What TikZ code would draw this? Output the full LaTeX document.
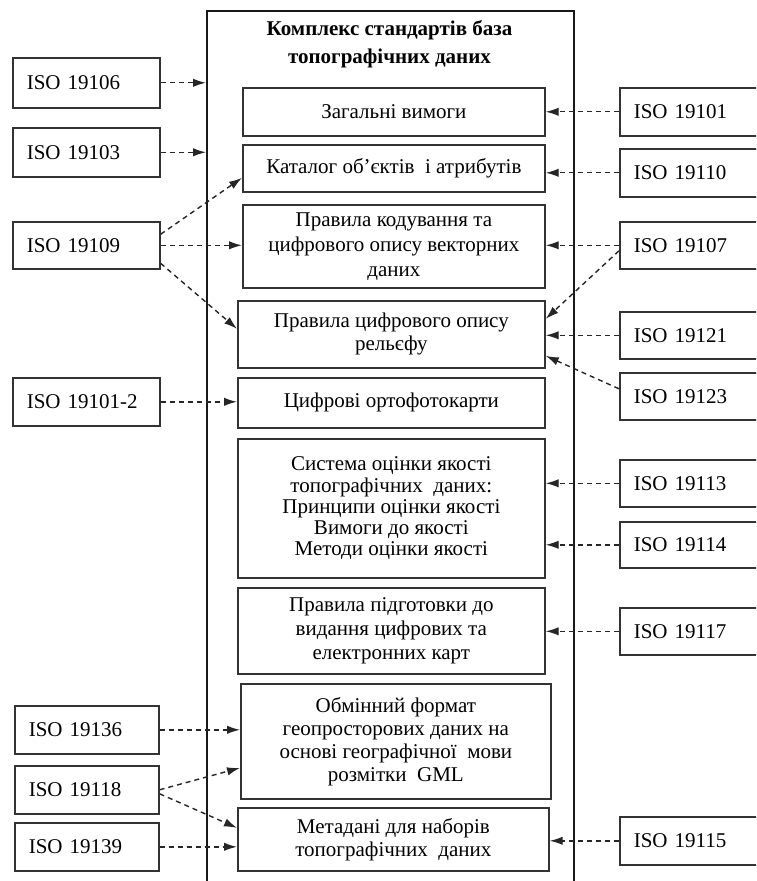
\documentclass[tikz,border=0pt]{standalone}
\usepackage{fontspec}
\setmainfont{Liberation Serif}
\usetikzlibrary{arrows.meta,calc}
\begin{document}
\begin{tikzpicture}[x=0.5pt,y=-0.5pt,
  bx/.style={draw=black!80, line width=0.85pt, anchor=north west, inner sep=0pt,
    align=center, font=\fontsize{10.5}{11.5}\selectfont},
  iso/.style={draw=black!80, line width=0.8pt, anchor=north west, inner xsep=7pt,
    inner ysep=0pt, text width=59.5pt, minimum width=73.5pt, align=left,
    font=\fontsize{10.5}{12}\selectfont},
  con/.style={draw=black!85, dash pattern=on 2.5pt off 2pt, line width=0.7pt,
    -{Latex[length=6.5pt,width=4.2pt]}}
]
\useasboundingbox (0,0) rectangle (756,881);
\clip (0,0) rectangle (756,881);
\fill[white] (0,0) rectangle (756,881);

% outer frame (open at the bottom)
\node[draw=black!90, line width=1.2pt, anchor=north west, inner sep=0pt,
  minimum width=183.5pt, minimum height=450pt] (outer) at (206,10) {};
\node[align=center, font=\fontsize{10.5}{14}\selectfont\bfseries] (title) at (389.5,44)
  {Комплекс стандартів база\\топографічних даних};

% inner boxes
\node[bx, minimum width=151pt, minimum height=24pt] (zag) at (242,87) {Загальні вимоги};
\node[bx, minimum width=151pt, minimum height=23.5pt] (kat) at (242,144) {Каталог об’єктів\ \ і атрибутів};
\node[bx, minimum width=151pt, minimum height=41.5pt, font=\fontsize{10.5}{12.5}\selectfont] (kod) at (242,204)
  {Правила кодування та\\цифрового опису векторних\\даних};
\node[bx, minimum width=153.5pt, minimum height=33.5pt] (rel) at (237,300)
  {Правила цифрового опису\\рельєфу};
\node[bx, minimum width=153.5pt, minimum height=25pt] (ort) at (237,377) {Цифрові ортофотокарти};
\node[bx, minimum width=153.5pt, minimum height=69.5pt, font=\fontsize{10.5}{10.6}\selectfont] (sys) at (237,438)
  {Система оцінки якості\\топографічних\ \ даних:\\Принципи оцінки якості\\Вимоги до якості\\Методи оцінки якості};
\node[bx, minimum width=153.5pt, minimum height=43pt, font=\fontsize{10.5}{12}\selectfont] (pid) at (237,587)
  {Правила підготовки до\\видання цифрових та\\електронних карт};
\node[bx, minimum width=155pt, minimum height=57.5pt] (obm) at (240,683)
  {Обмінний формат\\геопросторових даних на\\основі географічної\ \ мови\\розмітки\ \ GML};
\node[bx, minimum width=155.5pt, minimum height=31.5pt] (met) at (237,807)
  {Метадані для наборів\\топографічних\ \ даних};

% left standards
\node[iso, minimum height=25pt] (i19106) at (12,57) {ISO 19106};
\node[iso, minimum height=24.5pt] (i19103) at (12,127) {ISO 19103};
\node[iso, minimum height=23.5pt] (i19109) at (12,221) {ISO 19109};
\node[iso, minimum height=24pt] (i1910102) at (12,377) {ISO 19101-2};
\node[iso, minimum height=24pt, minimum width=72pt, text width=58pt] (i19136) at (14,705) {ISO 19136};
\node[iso, minimum height=24pt, minimum width=72pt, text width=58pt] (i19118) at (14,765) {ISO 19118};
\node[iso, minimum height=24pt, minimum width=72pt, text width=58pt] (i19139) at (14,822) {ISO 19139};

% right standards
\node[iso, minimum height=24pt, minimum width=75pt, text width=61pt] (i19101) at (619,87) {ISO 19101};
\node[iso, minimum height=24pt, minimum width=75pt, text width=61pt] (i19110) at (619,148) {ISO 19110};
\node[iso, minimum height=23.5pt, minimum width=75pt, text width=61pt] (i19107) at (619,221) {ISO 19107};
\node[iso, minimum height=23.5pt, minimum width=75pt, text width=61pt] (i19121) at (619,311) {ISO 19121};
\node[iso, minimum height=23.5pt, minimum width=75pt, text width=61pt] (i19123) at (619,372) {ISO 19123};
\node[iso, minimum height=23.5pt, minimum width=75pt, text width=61pt] (i19113) at (619,459) {ISO 19113};
\node[iso, minimum height=23pt, minimum width=75pt, text width=61pt] (i19114) at (619,521) {ISO 19114};
\node[iso, minimum height=23.5pt, minimum width=75pt, text width=61pt] (i19117) at (619,607) {ISO 19117};
\node[iso, minimum height=24pt, minimum width=75pt, text width=61pt] (i19115) at (619,816) {ISO 19115};

% left connectors
\draw[con] (i19106.east) -- (i19106.east -| outer.west);
\draw[con] (i19103.east) -- (i19103.east -| outer.west);
\draw[con] ([yshift=5.5pt]i19109.east) -- ([yshift=-4.75pt]kat.west);
\draw[con] (i19109.east) -- (i19109.east -| kod.west);
\draw[con] ([yshift=-9pt]i19109.east) -- ([yshift=2.75pt]rel.west);
\draw[con] (i1910102.east) -- (i1910102.east -| ort.west);
\draw[con] (i19136.east) -- (i19136.east -| obm.west);
\draw[con] (i19118.east) -- ([yshift=-13.25pt]obm.west);
\draw[con] ([yshift=-2pt]i19118.east) -- ([yshift=5.75pt]met.west);
\draw[con] (i19139.east) -- (i19139.east -| met.west);

% right connectors
\draw[con] (i19101.west) -- (i19101.west -| zag.east);
\draw[con] (i19110.west) -- (i19110.west -| kat.east);
\draw[con] (i19107.west) -- (i19107.west -| kod.east);
\draw[con] ([yshift=-2.75pt]i19107.west) -- ([yshift=7.75pt]rel.east);
\draw[con] (i19121.west) -- (i19121.west -| rel.east);
\draw[con] ([yshift=3.75pt]i19123.west) -- ([yshift=-10.75pt]rel.east);
\draw[con] (i19113.west) -- (i19113.west -| sys.east);
\draw[con] (i19114.west) -- (i19114.west -| sys.east);
\draw[con] (i19117.west) -- (i19117.west -| pid.east);
\draw[con] (i19115.west) -- (i19115.west -| met.east);
\end{tikzpicture}
\end{document}
